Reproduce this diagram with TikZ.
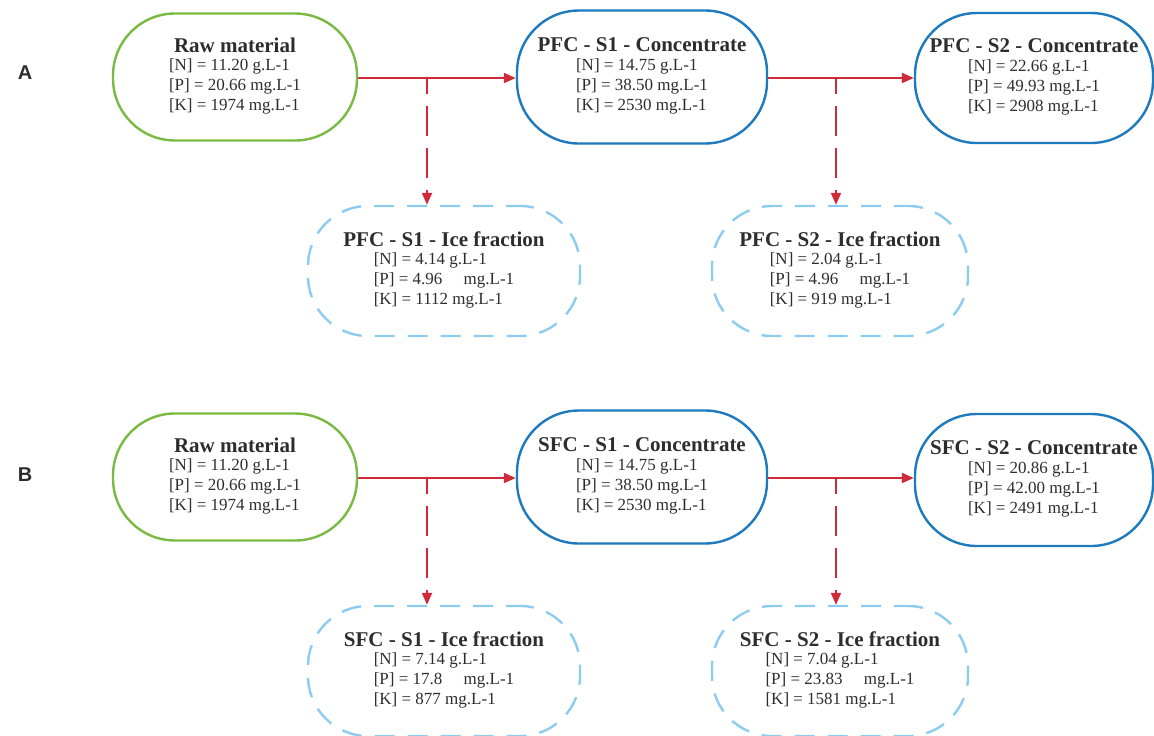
\documentclass[tikz,border=0pt]{standalone}
\usepackage{fontspec}
\setmainfont{Liberation Serif}
\newfontfamily\panelfont{Liberation Sans}
\usetikzlibrary{arrows.meta}

\definecolor{rawgreen}{RGB}{122,186,66}
\definecolor{concblue}{RGB}{30,122,190}
\definecolor{iceblue}{RGB}{140,204,238}
\definecolor{flowred}{RGB}{208,42,56}
\definecolor{txtgray}{RGB}{45,45,45}

\newcommand{\boxtext}[4]{%
  {\fontsize{21}{20}\selectfont\bfseries #1}\\[3pt]
  \begin{tabular}{@{}l@{}}#2\\\relax #3\\\relax #4\end{tabular}}

\tikzset{
  stagebox/.style={rectangle, rounded corners=62pt, line width=2.4pt,
    inner sep=0pt, align=center, text=txtgray,
    font=\fontsize{17}{20}\selectfont},
  rawbox/.style={stagebox, draw=rawgreen},
  concbox/.style={stagebox, draw=concblue},
  icebox/.style={stagebox, draw=iceblue, rounded corners=60pt,
    dash pattern=on 20pt off 13pt, dash phase=6pt},
  flow/.style={draw=flowred, line width=2pt,
    -{Triangle[length=12pt,width=10pt]}},
  branch/.style={flow, dash pattern=on 30pt off 12pt, dash phase=14pt},
  panel/.style={font=\panelfont\bfseries\fontsize{20}{24}\selectfont, text=txtgray}
}

\begin{document}
\begin{tikzpicture}[x=1pt,y=-1pt]
\useasboundingbox (0,0) rectangle (1154,736);

% ---------- panel A: progressive freeze concentration ----------
\node[panel] (la) at (25,73) {A};

\node[rawbox, minimum width=244pt, minimum height=127pt] (rawA) at (235,77)
  {\boxtext{Raw material}{[N] = 11.20 g.L-1}{[P] = 20.66 mg.L-1}{[K] = 1974 mg.L-1}};
\node[concbox, minimum width=250pt, minimum height=133pt] (c1A) at (642,77)
  {\boxtext{PFC - S1 - Concentrate}{[N] = 14.75 g.L-1}{[P] = 38.50 mg.L-1}{[K] = 2530 mg.L-1}};
\node[concbox, minimum width=238pt, minimum height=130pt] (c2A) at (1034,78)
  {\boxtext{PFC - S2 - Concentrate}{[N] = 22.66 g.L-1}{[P] = 49.93 mg.L-1}{[K] = 2908 mg.L-1}};
\node[icebox, minimum width=272pt, minimum height=130pt] (i1A) at (444,271)
  {\boxtext{PFC - S1 - Ice fraction}{[N] = 4.14 g.L-1}{[P] = 4.96 \quad mg.L-1}{[K] = 1112 mg.L-1}};
\node[icebox, minimum width=256pt, minimum height=130pt] (i2A) at (840,271)
  {\boxtext{PFC - S2 - Ice fraction}{[N] = 2.04 g.L-1}{[P] = 4.96 \quad mg.L-1}{[K] = 919 mg.L-1}};

\coordinate (jA1) at (427,78);
\coordinate (jA2) at (836,78);
\draw[flow] (rawA.east |- jA1) -- (c1A.west |- jA1);
\draw[flow] (c1A.east |- jA2) -- (c2A.west |- jA2);
\draw[branch] (jA1) -- (jA1 |- i1A.north);
\draw[branch] (jA2) -- (jA2 |- i2A.north);

% ---------- panel B: suspension freeze concentration ----------
\node[panel] (lb) at (25,475) {B};

\node[rawbox, minimum width=244pt, minimum height=127pt] (rawB) at (235,477)
  {\boxtext{Raw material}{[N] = 11.20 g.L-1}{[P] = 20.66 mg.L-1}{[K] = 1974 mg.L-1}};
\node[concbox, minimum width=250pt, minimum height=133pt] (c1B) at (642,477)
  {\boxtext{SFC - S1 - Concentrate}{[N] = 14.75 g.L-1}{[P] = 38.50 mg.L-1}{[K] = 2530 mg.L-1}};
\node[concbox, minimum width=238pt, minimum height=132pt] (c2B) at (1034,480)
  {\boxtext{SFC - S2 - Concentrate}{[N] = 20.86 g.L-1}{[P] = 42.00 mg.L-1}{[K] = 2491 mg.L-1}};
\node[icebox, minimum width=272pt, minimum height=130pt] (i1B) at (444,671)
  {\boxtext{SFC - S1 - Ice fraction}{[N] = 7.14 g.L-1}{[P] = 17.8 \quad mg.L-1}{[K] = 877 mg.L-1}};
\node[icebox, minimum width=256pt, minimum height=130pt] (i2B) at (840,671)
  {\boxtext{SFC - S2 - Ice fraction}{[N] = 7.04 g.L-1}{[P] = 23.83 \quad mg.L-1}{[K] = 1581 mg.L-1}};

\coordinate (jB1) at (427,478);
\coordinate (jB2) at (836,478);
\draw[flow] (rawB.east |- jB1) -- (c1B.west |- jB1);
\draw[flow] (c1B.east |- jB2) -- (c2B.west |- jB2);
\draw[branch] (jB1) -- (jB1 |- i1B.north);
\draw[branch] (jB2) -- (jB2 |- i2B.north);
\end{tikzpicture}
\end{document}
